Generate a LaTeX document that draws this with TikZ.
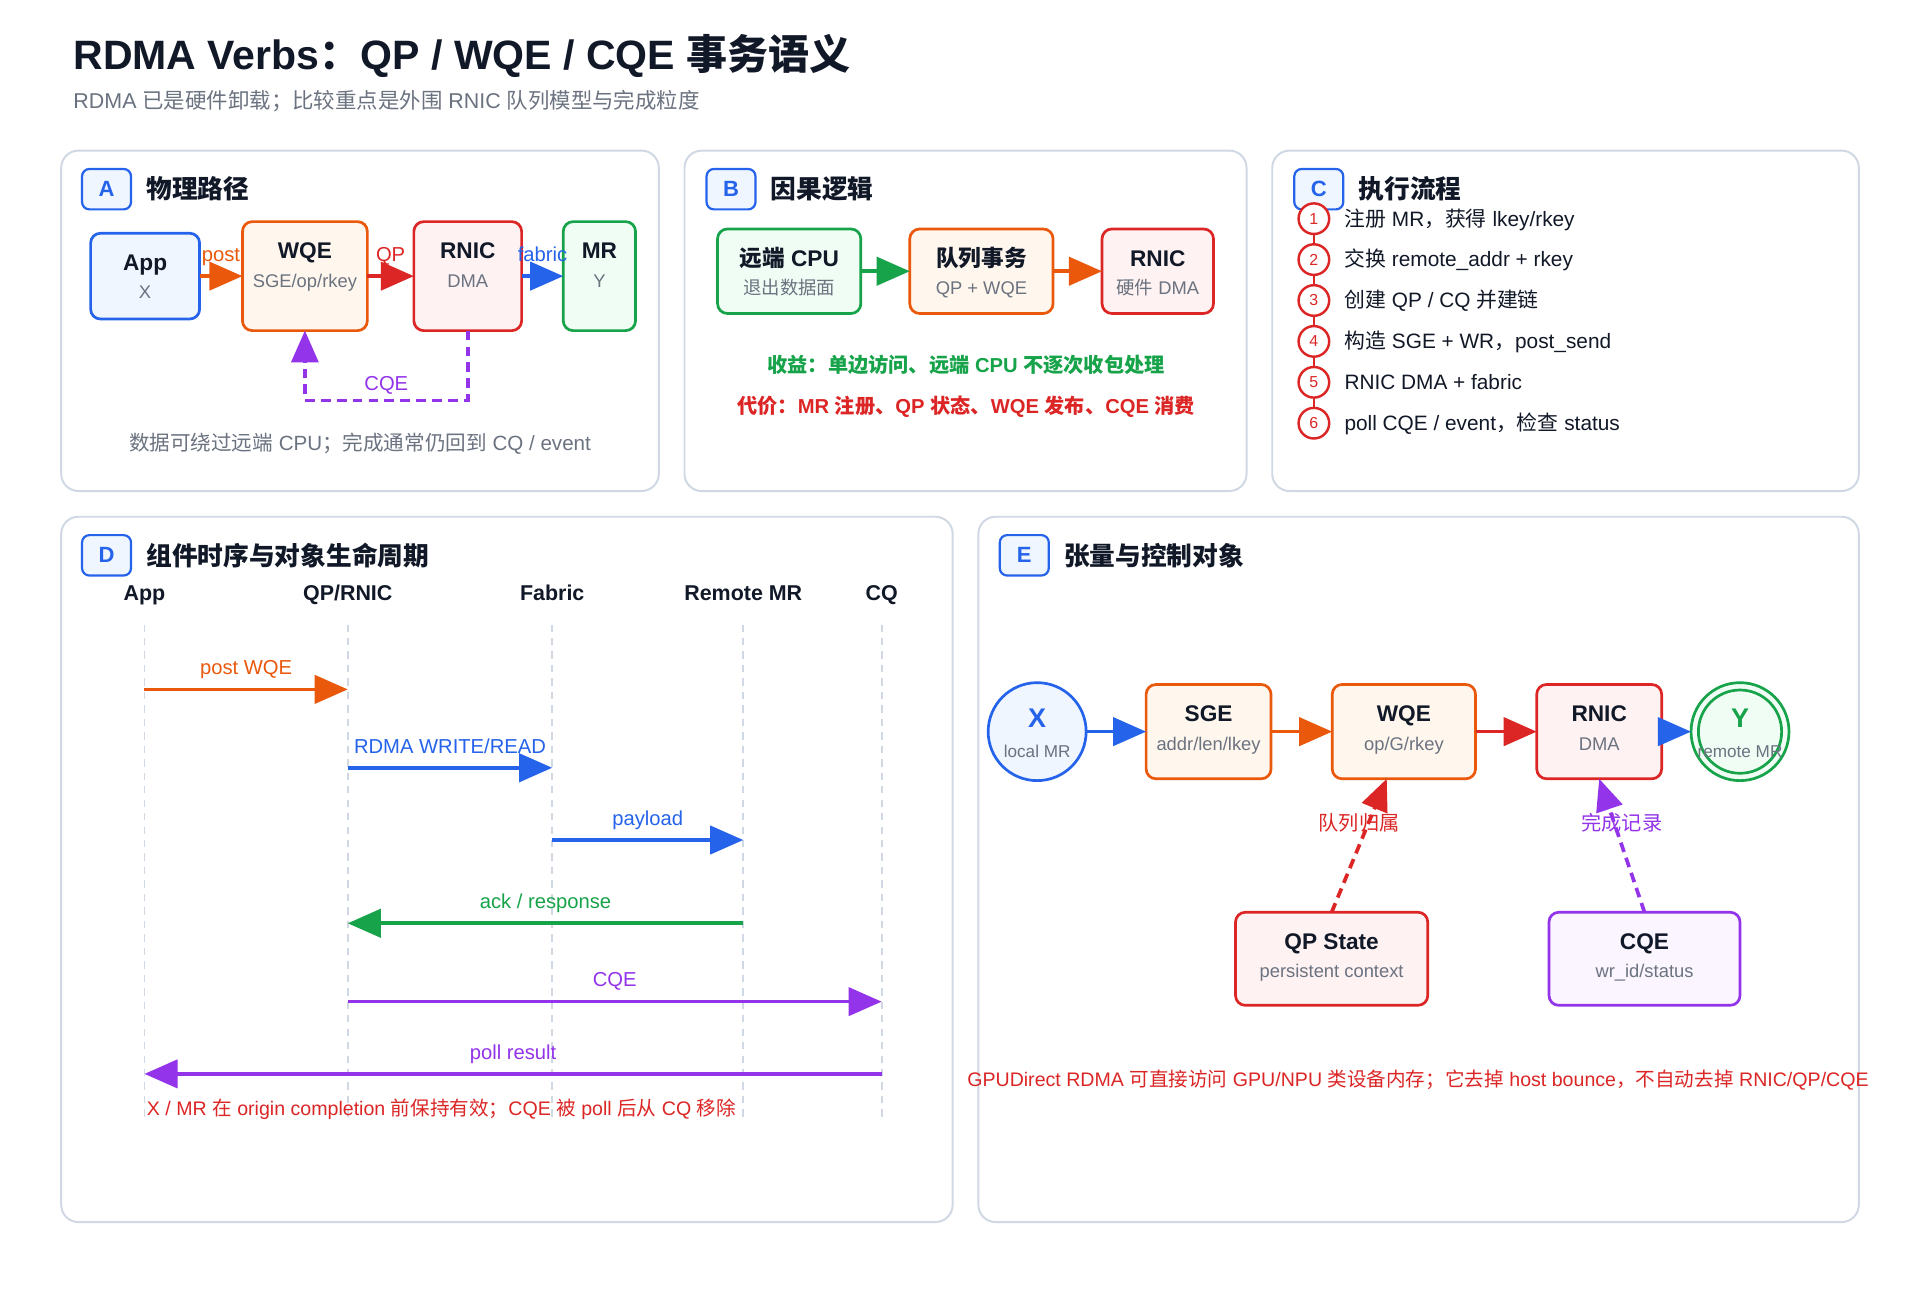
\documentclass[tikz,border=0pt]{standalone}
\usepackage{fontspec}
\setmainfont{Liberation Sans}
\newfontfamily\cjkfont{Noto Sans CJK SC}
\usetikzlibrary{arrows.meta, positioning}

\XeTeXinterchartokenstate=1
\newXeTeXintercharclass\cjkclass
\newcount\cjkcount
\newcommand{\cjkrange}[2]{\cjkcount=#1\relax
  \loop\XeTeXcharclass\cjkcount=\cjkclass
  \ifnum\cjkcount<#2\advance\cjkcount by 1\repeat}
\cjkrange{"3000}{"303F}
\cjkrange{"4E00}{"9FFF}
\cjkrange{"FF00}{"FFEF}
\XeTeXinterchartoks 0 \cjkclass = {\begingroup\cjkfont}
\XeTeXinterchartoks 4095 \cjkclass = {\begingroup\cjkfont}
\XeTeXinterchartoks \cjkclass 0 = {\endgroup}
\XeTeXinterchartoks \cjkclass 4095 = {\endgroup}

\definecolor{cBlue}{HTML}{2563EB}
\definecolor{cBlueL}{HTML}{EFF6FF}
\definecolor{cOrange}{HTML}{EA580C}
\definecolor{cOrangeL}{HTML}{FFF7ED}
\definecolor{cRed}{HTML}{DC2626}
\definecolor{cRedL}{HTML}{FEF2F2}
\definecolor{cGreen}{HTML}{16A34A}
\definecolor{cGreenL}{HTML}{F0FDF4}
\definecolor{cPurple}{HTML}{9333EA}
\definecolor{cPurpleL}{HTML}{FAF5FF}
\definecolor{cInk}{HTML}{111827}
\definecolor{cMuted}{HTML}{6B7280}
\definecolor{cFrame}{HTML}{CFD8E3}

\newcommand{\setfs}[1]{\fontsize{#1}{#1}\selectfont}
\newcommand{\card}[8]{%
  \node[card, draw=#2, fill=#2L, minimum width=#5pt, minimum height=#6pt] (#1) at (#3,#4) {};
  \node[head] at ([yshift=-30.5pt]#1.north) {#7};
  \node[sub] at ([yshift=-53.5pt]#1.north) {#8};}

\begin{document}
\begin{tikzpicture}[x=1pt, y=-1pt]
\tikzstyle{every node}+=[inner sep=0pt, outer sep=0pt]
\tikzstyle{panel}=[draw=cFrame, line width=1.6pt, fill=white, rounded corners=14pt]
\tikzstyle{badge}=[draw=cBlue, fill=cBlueL, line width=1.8pt, rounded corners=6pt, minimum width=40pt, minimum height=33pt, text=cBlue, font=\bfseries\setfs{18}]
\tikzstyle{ptitle}=[text=cInk, font=\bfseries\setfs{21}]
\tikzstyle{card}=[line width=2.2pt, rounded corners=8pt]
\tikzstyle{head}=[anchor=base, text=cInk, font=\bfseries\setfs{18.5}]
\tikzstyle{sub}=[anchor=base, text=cMuted, font=\setfs{15}]
\tikzstyle{flow}=[line width=3pt, -{Triangle[length=27pt,width=23pt]}]
\tikzstyle{flowlabel}=[anchor=base, yshift=12pt, font=\setfs{16.5}]
\tikzstyle{dashflow}=[line width=3pt, dash pattern=on 8pt off 5pt, -{Triangle[length=26pt,width=22pt]}]
\tikzstyle{tag}=[yshift=18.5pt, font=\setfs{16.5}]
\tikzstyle{note}=[anchor=base, font=\setfs{16}]
\tikzstyle{stepdot}=[circle, draw=cRed, fill=white, line width=2pt, minimum size=25pt, text=cRed, font=\setfs{13}]
\tikzstyle{steptext}=[anchor=base west, text=cInk, font=\setfs{17}]
\tikzstyle{lanehead}=[anchor=base, text=cInk, font=\bfseries\setfs{17.5}]
\tikzstyle{lifeline}=[draw=cFrame, line width=1.5pt, dash pattern=on 6pt off 5pt]

\fill[white] (0,0) rectangle (1568,1058);
\useasboundingbox (0,0) rectangle (1568,1058);

\node[anchor=base west, text=cInk, font=\bfseries\setfs{33.5}] (title) at (60,56.6) {RDMA Verbs：QP / WQE / CQE 事务语义};
\node[anchor=base west, text=cMuted, font=\setfs{17.5}] (subtitle) at (60,88.5) {RDMA 已是硬件卸载；比较重点是外围 RNIC 队列模型与完成粒度};

\draw[panel] (50,123) rectangle (538,401);
\draw[panel] (559,123) rectangle (1018,401);
\draw[panel] (1039,123) rectangle (1518,401);
\draw[panel] (50,422) rectangle (778,998);
\draw[panel] (799,422) rectangle (1518,998);

\foreach \bx/\by/\bl/\bt in {87/154.5/A/物理路径, 597/154.5/B/因果逻辑, 1077/154.5/C/执行流程, 87/453.5/D/组件时序与对象生命周期, 836.5/453.5/E/张量与控制对象}{
  \node[badge] (badge\bl) at (\bx,\by) {\bl};
  \node[ptitle, right=12.5pt of badge\bl] (title\bl) {\bt};
}

\card{app}{cBlue}{118.5}{225.5}{89}{70}{App}{X}
\card{wqeA}{cOrange}{249}{225.5}{102}{89}{WQE}{SGE/op/rkey}
\card{rnicA}{cRed}{382}{225.5}{88}{89}{RNIC}{DMA}
\card{mrA}{cGreen}{489.5}{225.5}{59}{89}{MR}{Y}
\draw[flow, cOrange] (app) -- node[flowlabel] {post} (wqeA);
\draw[flow, cRed] (wqeA) -- node[flowlabel] {QP} (rnicA);
\draw[flow, cBlue] (rnicA) -- node[flowlabel] {fabric} (mrA);
\draw[dashflow, cPurple] (rnicA.south) -- ++(0,57) -| node[pos=0.25, anchor=base, yshift=8.5pt, font=\setfs{16.5}] {CQE} (wqeA.south);
\node[note, text=cMuted, font=\setfs{16.8}] (capA) at (294,367.5) {数据可绕过远端 CPU；完成通常仍回到 CQ / event};

\card{cpu}{cGreen}{644.5}{221.5}{117}{69}{远端 CPU}{退出数据面}
\card{queue}{cOrange}{801.5}{221.5}{117}{69}{队列事务}{QP + WQE}
\card{rnicB}{cRed}{945.5}{221.5}{91}{69}{RNIC}{硬件 DMA}
\draw[flow, cGreen] (cpu) -- (queue);
\draw[flow, cOrange] (queue) -- (rnicB);
\node[note, text=cGreen, font=\bfseries\setfs{16.5}] (gain) at (789,304) {收益：单边访问、远端 CPU 不逐次收包处理};
\node[note, text=cRed, font=\bfseries\setfs{16.5}] (cost) at (789,338) {代价：MR 注册、QP 状态、WQE 发布、CQE 消费};

\foreach \i/\txt in {1/{注册 MR，获得 lkey/rkey}, 2/{交换 remote\_addr + rkey}, 3/{创建 QP / CQ 并建链}, 4/{构造 SGE + WR，post\_send}, 5/{RNIC DMA + fabric}, 6/{poll CQE / event，检查 status}}{
  \node[stepdot] (s\i) at (1073,{178.6+33.4*(\i-1)}) {\i};
  \node[steptext] (t\i) at (1098,{184.6+33.4*(\i-1)}) {\txt};
}
\foreach \i/\j in {1/2, 2/3, 3/4, 4/5, 5/6}
  \draw[cRed, line width=2pt] (s\i) -- (s\j);

\foreach \ln/\lx/\lt in {App/118/App, QP/284/{QP/RNIC}, Fab/451/Fabric, Rem/607/{Remote MR}, CQ/720/CQ}{
  \node[lanehead] (h\ln) at (\lx,490) {\lt};
  \coordinate (l\ln) at (\lx,510);
  \coordinate (e\ln) at (\lx,913);
  \draw[lifeline] (l\ln) -- (e\ln);
}
\foreach \src/\dst/\yy/\col/\txt in {App/QP/563/cOrange/{post WQE}, QP/Fab/627/cBlue/{RDMA WRITE/READ}, Fab/Rem/686/cBlue/payload, Rem/QP/754/cGreen/{ack / response}, QP/CQ/818/cPurple/CQE, CQ/App/877/cPurple/{poll result}}
  \draw[flow, \col] (l\src |- 0,\yy) -- node[flowlabel] {\txt} (l\dst |- 0,\yy);
\node[note, anchor=base west, text=cRed] (noteD) at (120,911) {X / MR 在 origin completion 前保持有效；CQE 被 poll 后从 CQ 移除};

\node[circle, draw=cBlue, fill=cBlueL, line width=2.2pt, minimum size=80pt] (xmr) at (847,597.5) {};
\node[anchor=base, text=cBlue, font=\bfseries\setfs{22}] at ([yshift=3.5pt]xmr.center) {X};
\node[anchor=base, text=cMuted, font=\setfs{14}] at ([yshift=-21pt]xmr.center) {local MR};
\node[circle, draw=cGreen, fill=cGreenL, line width=2.2pt, minimum size=80pt] (ymr) at (1421,597.5) {};
\node[circle, draw=cGreen, line width=2.2pt, minimum size=68pt] (ymrin) at (ymr) {};
\node[anchor=base, text=cGreen, font=\bfseries\setfs{22}] at ([yshift=3.5pt]ymr.center) {Y};
\node[anchor=base, text=cMuted, font=\setfs{14}] at ([yshift=-21pt]ymr.center) {remote MR};

\card{sge}{cOrange}{987}{597.5}{102}{77}{SGE}{addr/len/lkey}
\card{wqeE}{cOrange}{1146.5}{597.5}{117}{77}{WQE}{op/G/rkey}
\card{rnicE}{cRed}{1306}{597.5}{102}{77}{RNIC}{DMA}
\card{qps}{cRed}{1087.5}{783}{157}{76}{QP State}{persistent context}
\card{cqeE}{cPurple}{1343}{783}{156}{76}{CQE}{wr\_id/status}
\draw[flow, cBlue] (xmr) -- (sge);
\draw[flow, cOrange] (sge) -- (wqeE);
\draw[flow, cRed] (wqeE) -- (rnicE);
\draw[flow, cBlue] (rnicE) -- (ymr);
\draw[dashflow, cRed] (qps.north) -- node[tag] {队列归属} ([xshift=-14pt]wqeE.south);
\draw[dashflow, cPurple] (cqeE.north) -- node[tag] {完成记录} (rnicE.south);
\node[note, text=cRed] (noteE) at (1158,887.4) {GPUDirect RDMA 可直接访问 GPU/NPU 类设备内存；它去掉 host bounce，不自动去掉 RNIC/QP/CQE};
\end{tikzpicture}
\end{document}
